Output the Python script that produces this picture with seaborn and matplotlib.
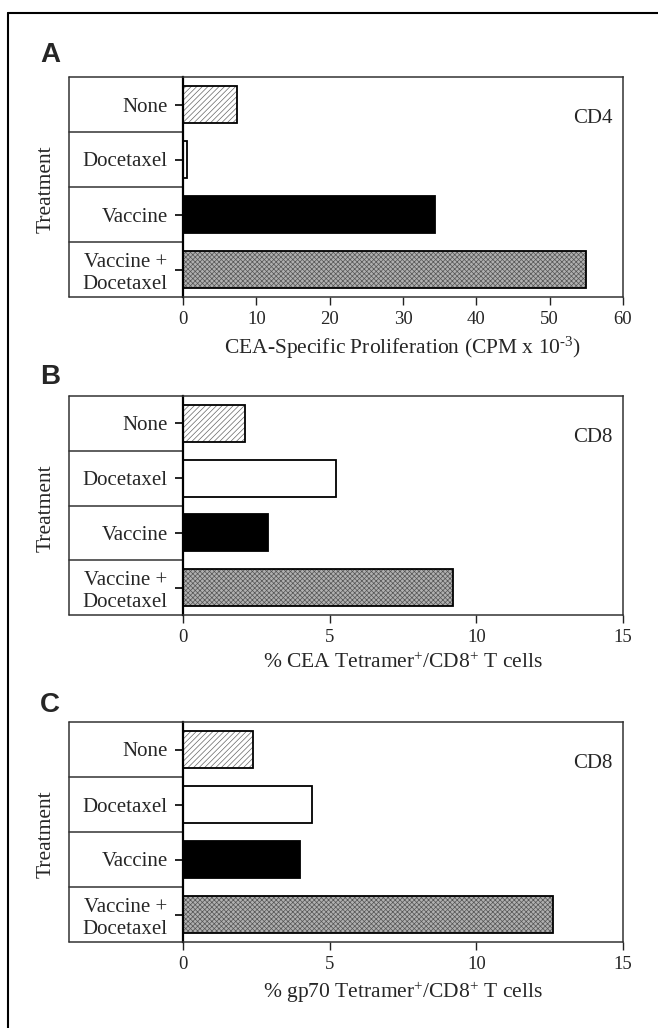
import matplotlib
matplotlib.use("Agg")
import matplotlib.pyplot as plt
import seaborn as sns
from matplotlib.lines import Line2D

# values
treatments = ["None", "Docetaxel", "Vaccine", "Vaccine +\nDocetaxel"]
cd4_proliferation = [7.3, 0.6, 34.3, 55.0]
cea_tetramer = [2.1, 5.2, 2.9, 9.2]
gp70_tetramer = [2.4, 4.4, 4.0, 12.6]

panel_letters = ["A", "B", "C"]
panel_tags = ["CD4", "CD8", "CD8"]
x_labels = [
    r"CEA-Specific Proliferation (CPM x 10$^{\text{-}3}$)",
    r"% CEA Tetramer$^{+}$/CD8$^{+}$ T cells",
    r"% gp70 Tetramer$^{+}$/CD8$^{+}$ T cells",
]
x_ticks = [[0, 10, 20, 30, 40, 50, 60], [0, 5, 10, 15], [0, 5, 10, 15]]

sns.set_style("white")
plt.rcParams["font.family"] = ["Liberation Serif", "DejaVu Serif"]
plt.rcParams["mathtext.fontset"] = "custom"
plt.rcParams["mathtext.rm"] = "Liberation Serif"
plt.rcParams["mathtext.it"] = "Liberation Serif:italic"
plt.rcParams["hatch.linewidth"] = 0.5

fills = ["white", "white", "black", "#b0b0b0"]
hatches = ["//////", "", "", "xxxxxxx"]
hatch_colors = ["#666666", "white", "black", "#555555"]

W, H = 658, 1028
fig = plt.figure(figsize=(W / 100, H / 100), dpi=100)

# pixel boxes of each plot area (top, bottom)
panel_rows = [(77, 297), (396, 615), (722, 942)]
ax_left, ax_right, col_left = 183, 623, 69
col_frac = (col_left - ax_left) / (ax_right - ax_left)

series = [cd4_proliferation, cea_tetramer, gp70_tetramer]

for i, values in enumerate(series):
    top, bottom = panel_rows[i]
    ax = fig.add_axes([ax_left / W, 1 - bottom / H, (ax_right - ax_left) / W, (bottom - top) / H])

    # hatched / filled body
    sns.barplot(x=values, y=treatments, ax=ax, orient="h", width=0.68, color="white", linewidth=0)
    for patch, fc, hc, ht in zip(ax.patches, fills, hatch_colors, hatches):
        patch.set_facecolor(fc)
        patch.set_edgecolor(hc)
        patch.set_hatch(ht)
        patch.set_linewidth(0)
    n_body = len(ax.patches)

    # black outlines on top
    sns.barplot(x=values, y=treatments, ax=ax, orient="h", width=0.68, color="white", linewidth=1.3)
    for patch in ax.patches[n_body:]:
        patch.set_facecolor("none")
        patch.set_edgecolor("black")

    ax.set_ylim(3.5, -0.5)
    ax.set_xlim(x_ticks[i][0], x_ticks[i][-1])
    ax.set_xticks(x_ticks[i])
    ax.set_xlabel(x_labels[i], fontsize=15.5, labelpad=5)
    ax.set_ylabel("")
    ax.tick_params(axis="x", direction="out", length=6, width=1, labelsize=13.5, pad=4, bottom=True, color="#222222")
    ax.tick_params(axis="y", direction="out", length=6, width=1.2, labelsize=15, pad=5, left=True, color="black")

    for name, sp in ax.spines.items():
        sp.set_visible(True)
        sp.set_color("#333333")
        sp.set_linewidth(1.1)
    ax.spines["left"].set_color("black")
    ax.spines["left"].set_linewidth(1.6)

    # label column boxes left of the axis
    line_kw = dict(transform=ax.transAxes, clip_on=False, color="#333333", linewidth=1.1)
    ax.plot([col_frac, 0], [1, 1], **line_kw)
    ax.plot([col_frac, 0], [0, 0], **line_kw)
    ax.plot([col_frac, col_frac], [0, 1], **line_kw)
    for y in [0.25, 0.5, 0.75]:
        ax.plot([col_frac, 0], [y, y], **line_kw)

    ax.text(0.977, 0.81, panel_tags[i], transform=ax.transAxes, ha="right", va="center", fontsize=15)
    ax.text((46 - ax_left) / (ax_right - ax_left), 0.49, "Treatment", transform=ax.transAxes,
            rotation=90, ha="center", va="center", fontsize=15.5)

    letter_y = [55, 377, 705][i]
    fig.text(40 / W, 1 - letter_y / H, panel_letters[i], ha="left", va="center",
             fontsize=20, fontweight="bold", family="Liberation Sans")

# outer frame (top and left edges)
fig.add_artist(Line2D([8 / W, 1.0], [1 - 13 / H, 1 - 13 / H], color="black", linewidth=1.5))
fig.add_artist(Line2D([8 / W, 8 / W], [1 - 13 / H, 0.0], color="black", linewidth=1.5))

fig.savefig("out.png", dpi=100)
